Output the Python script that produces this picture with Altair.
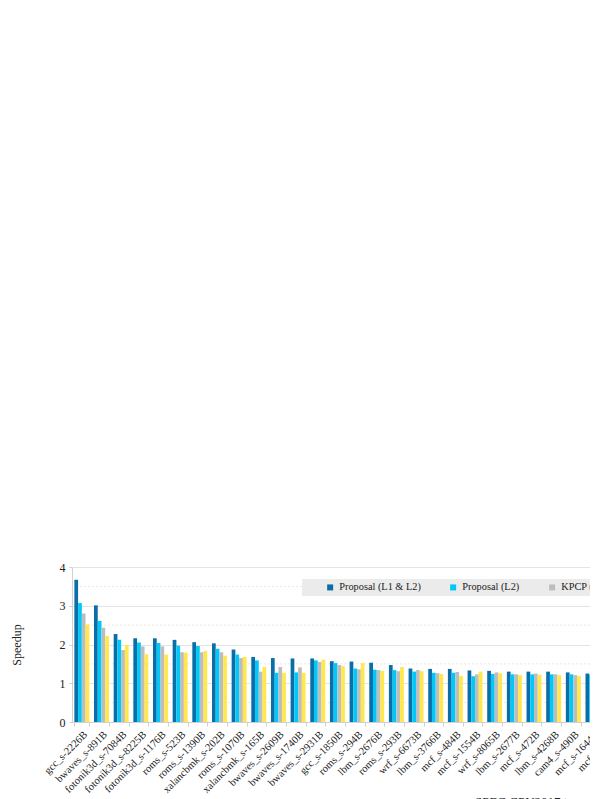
import altair as alt
import pandas as pd

categories = [
    "gcc_s-2226B", "bwaves_s-891B", "fotonik3d_s-7084B", "fotonik3d_s-8225B",
    "fotonik3d_s-1176B", "roms_s-523B", "roms_s-1390B", "xalancbmk_s-202B",
    "roms_s-1070B", "xalancbmk_s-165B", "bwaves_s-2609B", "bwaves_s-1740B",
    "bwaves_s-2931B", "gcc_s-1850B", "roms_s-294B", "lbm_s-2676B",
    "roms_s-293B", "wrf_s-6673B", "lbm_s-3766B", "mcf_s-484B",
    "mcf_s-1554B", "wrf_s-8065B", "lbm_s-2677B", "mcf_s-472B",
    "lbm_s-4268B", "cam4_s-490B", "mcf_s-1644B", "mcf_s-782B",
    "pop2_s-17B", "cactuBSSN_s-2421B", "wrf_s-575B", "cam4_s-573B",
    "omnetpp_s-874B", "xz_s-3167B", "gcc_s-734B", "mcf_s-994B",
    "leela_s-1083B", "deepsjeng_s-928B", "perlbench_s-570B", "exchange2_s-387B",
    "x264_s-39B", "imagick_s-10316B", "nab_s-5853B", "xalancbmk_s-10B",
    "wrf_s-8100B", "fotonik3d_s-1032B", "roms_s-1613B",
]

proposal_l1l2 = [
    3.67, 3.01, 2.27, 2.16, 2.16, 2.12, 2.06, 2.03, 1.87, 1.68, 1.65, 1.64,
    1.64, 1.57, 1.56, 1.53, 1.47, 1.38, 1.37, 1.37, 1.33, 1.32, 1.30, 1.30,
    1.30, 1.28, 1.25, 1.24, 1.23, 1.22, 1.21, 1.20, 1.19, 1.18, 1.17, 1.16,
    1.15, 1.14, 1.13, 1.12, 1.11, 1.10, 1.09, 1.08, 1.06, 1.05, 1.03,
]
proposal_l2 = [
    3.07, 2.61, 2.12, 2.05, 2.04, 1.97, 1.96, 1.89, 1.74, 1.59, 1.27, 1.28,
    1.59, 1.52, 1.38, 1.35, 1.34, 1.30, 1.27, 1.27, 1.18, 1.24, 1.23, 1.23,
    1.23, 1.23, 1.22, 1.20, 1.18, 1.19, 1.17, 1.16, 1.12, 1.15, 1.13, 1.12,
    1.12, 1.10, 1.09, 1.08, 1.08, 1.07, 1.06, 1.05, 1.04, 1.03, 1.02,
]
kpcp_l2 = [
    2.80, 2.43, 1.86, 1.95, 1.95, 1.80, 1.80, 1.80, 1.65, 1.30, 1.42, 1.41,
    1.55, 1.47, 1.36, 1.34, 1.31, 1.34, 1.26, 1.29, 1.23, 1.28, 1.23, 1.25,
    1.23, 1.21, 1.19, 1.18, 1.17, 1.16, 1.15, 1.15, 1.13, 1.12, 1.12, 1.11,
    1.10, 1.09, 1.09, 1.07, 1.06, 1.06, 1.05, 1.04, 1.03, 1.02, 1.01,
]
spp_l2 = [
    2.52, 2.22, 1.99, 1.75, 1.74, 1.79, 1.83, 1.71, 1.68, 1.42, 1.27, 1.27,
    1.61, 1.44, 1.52, 1.32, 1.42, 1.31, 1.24, 1.19, 1.30, 1.26, 1.21, 1.22,
    1.21, 1.19, 1.19, 1.18, 1.16, 1.15, 1.16, 1.14, 1.13, 1.11, 1.10, 1.10,
    1.09, 1.08, 1.07, 1.07, 1.06, 1.05, 1.04, 1.03, 1.02, 1.02, 1.01,
]

series_names = ["Proposal (L1 & L2)", "Proposal (L2)", "KPCP (L2)", "SPP (L2)"]
series_colors = ["#0A6EA8", "#00C8F8", "#BDBDBD", "#FFE84D"]
major_ticks = [0, 1, 2, 3, 4]
minor_grid = [0.5, 1.5, 2.5, 3.5]

FONT = "Liberation Serif"
FULL_PLOT_WIDTH = 924  # full x-range of the (clipped) plot

rows = []
for i, c in enumerate(categories):
    for name, vals in zip(series_names, [proposal_l1l2, proposal_l2, kpcp_l2, spp_l2]):
        rows.append({"trace": c, "series": name, "speedup": vals[i]})
df = pd.DataFrame(rows)
minor_df = pd.DataFrame({"speedup": minor_grid})

y_scale = alt.Scale(domain=[0, 4])
y_axis = alt.Axis(
    title="Speedup",
    values=major_ticks,
    tickCount=5,
    labelOverlap=False,
    tickSize=3,
    labelPadding=4,
    titlePadding=36,
    labelFontSize=12,
    titleFontSize=12,
)

minor = alt.Chart(minor_df).mark_rule(
    color="#e8e8e8", strokeDash=[2, 2], strokeWidth=1
).encode(y=alt.Y("speedup:Q", scale=y_scale, axis=y_axis))

bars = alt.Chart(df).mark_bar().encode(
    x=alt.X(
        "trace:N",
        sort=categories,
        scale=alt.Scale(paddingInner=0.24, paddingOuter=0.12,
                        range=[0, FULL_PLOT_WIDTH]),
        axis=alt.Axis(
            title="SPEC CPU2017 traces",
            labelAngle=-45,
            labelAlign="right",
            labelBaseline="top",
            tickBand="extent",
            tickSize=4,
            labelPadding=3,
            titlePadding=-5,
            labelFontSize=10.6,
            titleFontSize=13,
        ),
    ),
    xOffset=alt.XOffset("series:N", sort=series_names,
                        scale=alt.Scale(paddingInner=0, paddingOuter=0)),
    y=alt.Y("speedup:Q", scale=y_scale, axis=y_axis),
    color=alt.Color(
        "series:N",
        scale=alt.Scale(domain=series_names, range=series_colors),
        legend=alt.Legend(
            title=" ",
            titleOrient="left",
            titlePadding=20,
            orient="none",
            legendX=230,
            legendY=12,
            direction="horizontal",
            fillColor="#ebebeb",
            padding=3,
            symbolType="square",
            symbolSize=36,
            symbolStrokeWidth=0,
            labelOffset=4,
            columnPadding=27,
            labelFontSize=10.3,
            labelFont=FONT,
            labelColor="#222222",
        ),
    ),
)

chart = alt.layer(minor, bars).properties(
    width=518,
    height=155,
    autosize=alt.AutoSizeParams(type="none"),
    padding={"top": 559, "left": 64, "right": 0, "bottom": 77},
).configure_axis(
    labelFont=FONT,
    titleFont=FONT,
    labelColor="#222222",
    titleColor="#222222",
    titleFontWeight="normal",
    gridColor="#e4e4e4",
    domainColor="#d0d0d0",
    tickColor="#d0d0d0",
).configure_view(stroke=None)

chart.save("out.html", embed_options={"renderer": "svg", "actions": False})
